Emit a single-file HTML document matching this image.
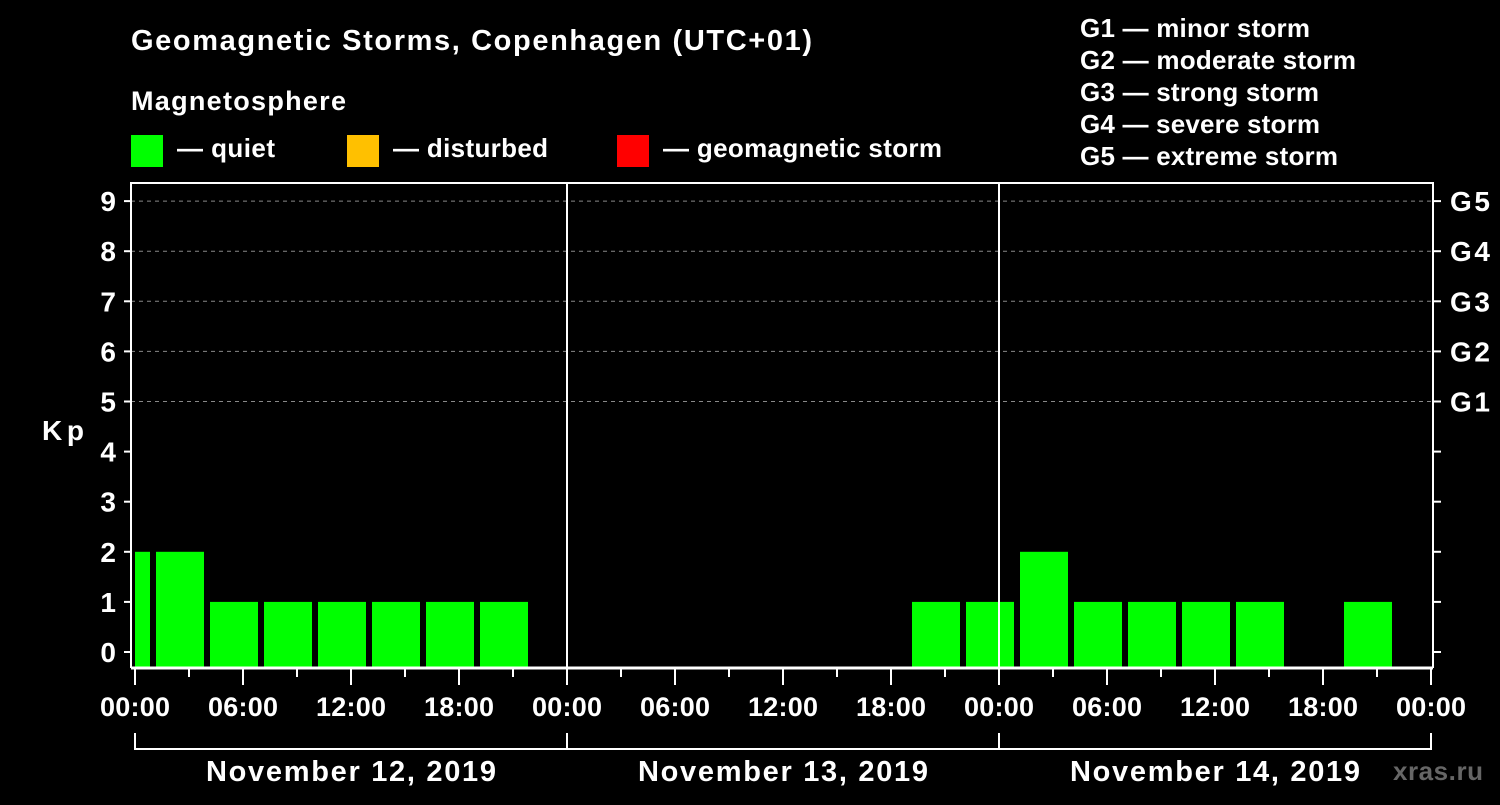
<!DOCTYPE html>
<html><head><meta charset="utf-8"><style>
body{margin:0;background:#000;}
svg text{font-family:"Liberation Sans",Arial,sans-serif;font-weight:bold;fill:#fff;}
</style></head><body>
<svg id="chart" width="1500" height="800" viewBox="0 0 1500 800">
<rect width="1500" height="800" fill="#000"/>
<text x="131" y="50" font-size="29" textLength="681" lengthAdjust="spacing">Geomagnetic Storms, Copenhagen (UTC+01)</text>
<text x="131" y="110" font-size="27" textLength="215" lengthAdjust="spacing">Magnetosphere</text>
<g><rect x="131" y="135" width="32" height="32" fill="#00ff00"/><text x="177" y="157" font-size="26" textLength="98" lengthAdjust="spacing">— quiet</text></g>
<g><rect x="347" y="135" width="32" height="32" fill="#ffc000"/><text x="393" y="157" font-size="26" textLength="155" lengthAdjust="spacing">— disturbed</text></g>
<g><rect x="617" y="135" width="32" height="32" fill="#ff0000"/><text x="663" y="157" font-size="26" textLength="279" lengthAdjust="spacing">— geomagnetic storm</text></g>
<g font-size="26">
<text x="1080" y="37" textLength="230" lengthAdjust="spacing">G1 — minor storm</text>
<text x="1080" y="69" textLength="276" lengthAdjust="spacing">G2 — moderate storm</text>
<text x="1080" y="101" textLength="239" lengthAdjust="spacing">G3 — strong storm</text>
<text x="1080" y="133" textLength="240" lengthAdjust="spacing">G4 — severe storm</text>
<text x="1080" y="165" textLength="258" lengthAdjust="spacing">G5 — extreme storm</text>
</g>
<text x="42" y="440" font-size="28" textLength="42" lengthAdjust="spacing">Kp</text>
<text x="1393" y="780" font-size="26" textLength="90" lengthAdjust="spacing" style="fill:#666">xras.ru</text>
<g id="grid"></g><g id="bars"></g><g id="axes"></g>
</svg>
<script>
const kpValues=[2,2,1,1,1,1,1,1,null,null,null,null,null,null,null,1,1,2,1,1,1,1,null,1,null];
const binStartHour=-2;
const yTicks=[0,1,2,3,4,5,6,7,8,9];
const gLabels=['G1','G2','G3','G4','G5'];
const gLevels=[5,6,7,8,9];
const dayLabels=['November 12, 2019','November 13, 2019','November 14, 2019'];
const xTickLabels=['00:00','06:00','12:00','18:00'];

const NS='http://www.w3.org/2000/svg';
const X0=135,PXH=18,H_TOTAL=72,Y0=652,PXK=50.1,TOP=183,BOT=668,L=131,R=1433;
const xs=h=>X0+h*PXH, ys=k=>Y0-k*PXK;
function mk(tag,attrs,parent){const e=document.createElementNS(NS,tag);for(const k in attrs)e.setAttribute(k,attrs[k]);parent.appendChild(e);return e;}
const grid=document.getElementById('grid'),bars=document.getElementById('bars'),axes=document.getElementById('axes');

gLevels.forEach((k,i)=>{
 const l=mk('line',{x1:L,x2:R,y1:ys(k),y2:ys(k),stroke:'#888','stroke-dasharray':'4,4','stroke-width':1},grid);
 
 
 const t=mk('text',{x:1450,y:ys(k)+10,'font-size':28,textLength:40,lengthAdjust:'spacing'},axes);t.textContent=gLabels[i];
 
 
});
kpValues.forEach((v,i)=>{
 if(v===null)return;
 let a=xs(binStartHour+3*i)+3,b=xs(binStartHour+3*i+3)-3;
 a=Math.max(a,X0);b=Math.min(b,xs(H_TOTAL));
 const c=v>=5?'#ff0000':(v>=4?'#ffc000':'#00ff00');
 const r=mk('rect',{x:a,y:ys(v),width:b-a,height:BOT-ys(v),fill:c},bars);
 
 
});
mk('path',{d:`M${L} ${BOT}V${TOP}H${R}V${BOT}`,stroke:'#fff','stroke-width':2,fill:'none'},axes);
mk('line',{x1:L,x2:R,y1:BOT,y2:BOT,stroke:'#fff','stroke-width':3},axes);
[1,2].forEach(d=>mk('line',{x1:xs(24*d),x2:xs(24*d),y1:TOP,y2:BOT,stroke:'#fff','stroke-width':2},axes));
yTicks.forEach(k=>{
 mk('line',{x1:124,x2:L,y1:ys(k),y2:ys(k),stroke:'#fff','stroke-width':2},axes);
 mk('line',{x1:R,x2:1441,y1:ys(k),y2:ys(k),stroke:'#fff','stroke-width':2},axes);
 const t=mk('text',{x:116,y:ys(k)+10,'font-size':28,'text-anchor':'end'},axes);t.textContent=k;
 
 
});
for(let h=0;h<=H_TOTAL;h+=3){
 const major=h%6===0;
 mk('line',{x1:xs(h),x2:xs(h),y1:BOT,y2:major?685:677,stroke:'#fff','stroke-width':2},axes);
 if(major){const t=mk('text',{x:xs(h)-35,y:716,'font-size':27,textLength:70,lengthAdjust:'spacing'},axes);t.textContent=xTickLabels[(h/6)%4];
 
 }
}
mk('line',{x1:X0,x2:xs(H_TOTAL),y1:749,y2:749,stroke:'#fff','stroke-width':2},axes);
for(let d=0;d<=3;d++)mk('line',{x1:xs(24*d),x2:xs(24*d),y1:733,y2:750,stroke:'#fff','stroke-width':2},axes);
dayLabels.forEach((s,d)=>{const t=mk('text',{x:xs(24*d+12)-145,y:781,'font-size':29,textLength:290,lengthAdjust:'spacing'},axes);t.textContent=s;
 
 });
</script>
</body></html>
